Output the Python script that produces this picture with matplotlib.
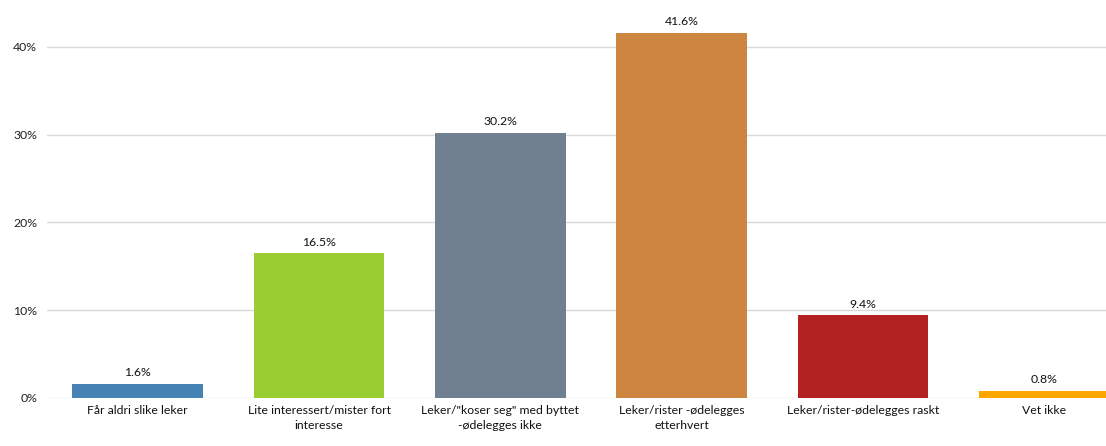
import matplotlib
matplotlib.use('Agg')
import matplotlib.pyplot as plt
import numpy as np

categories = ['Får aldri slike leker', 'Lite interessert/mister fort\ninteresse',
              'Leker/"koser seg" med byttet\n-ødelegges ikke', 'Leker/rister -ødelegges\netterhvert',
              'Leker/rister-ødelegges raskt', 'Vet ikke']
values = [1.6, 16.5, 30.2, 41.6, 9.4, 0.8]
colors = ['#4682B4', '#9ACD32', '#708090', '#CD853F', '#B22222', '#FFA500']
yticks = [0, 10, 20, 30, 40]

plt.rcParams['font.family'] = ['Lato', 'DejaVu Sans']

fig = plt.figure(figsize=(11.06, 4.46), dpi=100)
W, H = 1106, 446
left, right, bottom, top = 47, 1135, 398, 3
ax = fig.add_axes([left / W, (H - bottom) / H, (right - left) / W, (bottom - top) / H])

x = np.arange(len(values))
ax.bar(x, values, width=0.72, color=colors, zorder=3)
for xi, v in zip(x, values):
    ax.annotate(f'{v:.1f}%', (xi, v), xytext=(0, 4), textcoords='offset points',
                ha='center', va='bottom', fontsize=8.8, color='#111111')

ax.set_xlim(-0.5, len(values) - 0.5)
ax.set_ylim(0, 45)
ax.set_yticks(yticks)
ax.set_yticklabels([f'{t}%' for t in yticks], fontsize=8.8, color='#222222')
ax.set_xticks(x)
ax.set_xticklabels(categories, fontsize=8.8, color='#111111', linespacing=1.5)
ax.tick_params(axis='both', length=0, pad=7)
ax.tick_params(axis='x', pad=5)
ax.grid(axis='y', color='#d9d9d9', linewidth=1, zorder=0)
for s in ax.spines.values():
    s.set_visible(False)

fig.savefig('out.png', dpi=100)
